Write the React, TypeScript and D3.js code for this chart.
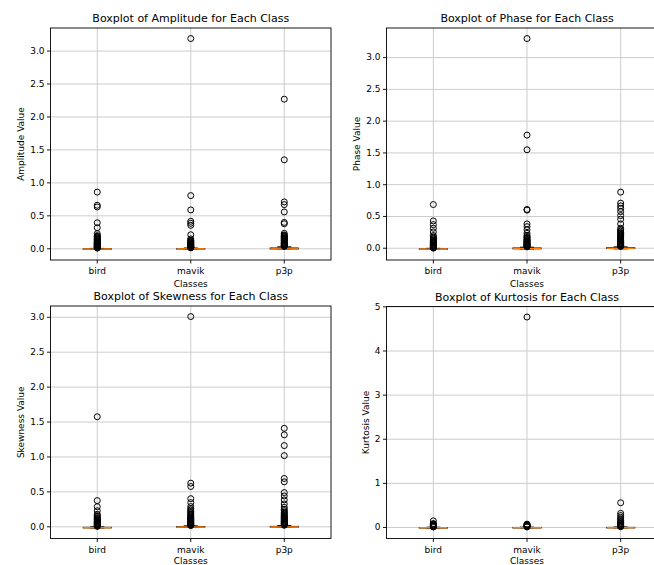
import React from "react";
import * as d3 from "d3";

// ---------- DATA ----------
const classes = ["bird", "mavik", "p3p"];
const features = ["Amplitude", "Phase", "Skewness", "Kurtosis"];

// box stats per class: [whiskerLow, q1, median, q3, whiskerHigh]
const amplitudeBoxes = [
  [-0.010, -0.006, -0.004, 0.000, 0.006],
  [-0.004, -0.002, -0.001, 0.004, 0.012],
  [-0.003, -0.002, -0.001, 0.012, 0.030],
];
const phaseBoxes = [
  [-0.019, -0.016, -0.014, -0.010, -0.002],
  [-0.012, -0.008, -0.006, 0.004, 0.016],
  [-0.010, -0.004, -0.002, 0.008, 0.022],
];
const skewnessBoxes = [
  [-0.016, -0.014, -0.012, -0.008, 0.000],
  [-0.008, -0.005, -0.003, 0.004, 0.014],
  [-0.006, -0.004, -0.002, 0.006, 0.018],
];
const kurtosisBoxes = [
  [-0.011, -0.008, -0.006, -0.002, 0.006],
  [-0.008, -0.006, -0.004, 0.000, 0.008],
  [-0.008, -0.006, -0.004, 0.002, 0.012],
];

// outliers per class
const amplitudeOutliers = [
  [0.86, 0.66, 0.635, 0.395, 0.32, 0.23, 0.2, 0.19, 0.18, 0.17, 0.16, 0.15, 0.14, 0.13, 0.12, 0.11, 0.10, 0.094, 0.088, 0.082, 0.076, 0.07, 0.064, 0.058, 0.052, 0.046, 0.04, 0.035, 0.03, 0.025, 0.02, 0.015, 0.011],
  [3.19, 0.807, 0.59, 0.417, 0.387, 0.356, 0.213, 0.15, 0.13, 0.12, 0.11, 0.1, 0.092, 0.085, 0.078, 0.071, 0.064, 0.058, 0.052, 0.046, 0.04, 0.035, 0.03, 0.026, 0.022, 0.018, 0.015],
  [2.27, 1.35, 0.711, 0.67, 0.559, 0.40, 0.38, 0.234, 0.21, 0.2, 0.19, 0.18, 0.17, 0.16, 0.15, 0.14, 0.13, 0.12, 0.11, 0.1, 0.09, 0.082, 0.075, 0.068, 0.061, 0.054, 0.048, 0.042, 0.036],
];
const phaseOutliers = [
  [0.688, 0.43, 0.372, 0.315, 0.257, 0.2, 0.18, 0.16, 0.145, 0.13, 0.12, 0.11, 0.1, 0.09, 0.08, 0.07, 0.062, 0.054, 0.046, 0.038, 0.031, 0.024, 0.018, 0.012, 0.006, 0.002],
  [3.30, 1.78, 1.55, 0.61, 0.60, 0.383, 0.34, 0.29, 0.236, 0.2, 0.185, 0.17, 0.155, 0.14, 0.13, 0.12, 0.11, 0.1, 0.09, 0.08, 0.072, 0.064, 0.056, 0.048, 0.04, 0.034, 0.028, 0.022],
  [0.883, 0.71, 0.667, 0.625, 0.577, 0.514, 0.457, 0.383, 0.315, 0.29, 0.27, 0.25, 0.235, 0.22, 0.205, 0.19, 0.175, 0.16, 0.145, 0.13, 0.12, 0.11, 0.1, 0.09, 0.08, 0.072, 0.064, 0.056, 0.048, 0.04, 0.034, 0.028],
];
const skewnessOutliers = [
  [1.576, 0.375, 0.288, 0.23, 0.18, 0.16, 0.145, 0.13, 0.12, 0.11, 0.1, 0.09, 0.08, 0.072, 0.064, 0.056, 0.048, 0.04, 0.032, 0.025, 0.018, 0.012, 0.006],
  [3.01, 0.625, 0.577, 0.403, 0.346, 0.29, 0.26, 0.24, 0.22, 0.2, 0.185, 0.17, 0.155, 0.14, 0.13, 0.12, 0.11, 0.1, 0.09, 0.08, 0.072, 0.064, 0.056, 0.048, 0.04, 0.034, 0.028, 0.022, 0.018],
  [1.41, 1.317, 1.163, 1.019, 0.692, 0.644, 0.49, 0.442, 0.385, 0.327, 0.279, 0.25, 0.23, 0.21, 0.195, 0.18, 0.165, 0.15, 0.14, 0.13, 0.12, 0.11, 0.1, 0.09, 0.08, 0.072, 0.064, 0.056, 0.048, 0.04, 0.034, 0.028, 0.022],
];
const kurtosisOutliers = [
  [0.15, 0.09, 0.075, 0.06, 0.05, 0.04, 0.032, 0.025, 0.018, 0.012],
  [4.77, 0.075, 0.068, 0.06, 0.052, 0.045, 0.038, 0.031, 0.024, 0.018, 0.012],
  [0.56, 0.32, 0.27, 0.23, 0.19, 0.16, 0.13, 0.11, 0.09, 0.075, 0.06, 0.05, 0.04, 0.032, 0.025, 0.018],
];

const decimalTicks = [0, 0.5, 1.0, 1.5, 2.0, 2.5, 3.0];
const integerTicks = [0, 1, 2, 3, 4, 5];

// ---------- LAYOUT ----------
const W = 654;
const H = 565;
const FONT = "DejaVu Sans, sans-serif";

type Panel = {
  name: string;
  boxes: number[][];
  outliers: number[][];
  ticks: number[];
  fmt: (v: number) => string;
  left: number;
  right: number;
  top: number;
  bottom: number;
  ylabelOffset: number;
  xlabelOffset: number;
};

const panels: Panel[] = [
  { name: features[0], boxes: amplitudeBoxes, outliers: amplitudeOutliers, ticks: decimalTicks, fmt: d3.format(".1f"), left: 50.5, right: 331, top: 28, bottom: 260, ylabelOffset: 30, xlabelOffset: 27 },
  { name: features[1], boxes: phaseBoxes, outliers: phaseOutliers, ticks: decimalTicks, fmt: d3.format(".1f"), left: 386.5, right: 667.5, top: 28, bottom: 260, ylabelOffset: 30, xlabelOffset: 27 },
  { name: features[2], boxes: skewnessBoxes, outliers: skewnessOutliers, ticks: decimalTicks, fmt: d3.format(".1f"), left: 50.5, right: 331, top: 306, bottom: 538.5, ylabelOffset: 30, xlabelOffset: 25.5 },
  { name: features[3], boxes: kurtosisBoxes, outliers: kurtosisOutliers, ticks: integerTicks, fmt: d3.format("d"), left: 386.5, right: 667.5, top: 306.5, bottom: 538.5, ylabelOffset: 21, xlabelOffset: 25.5 },
];

function BoxPanel({ p }: { p: Panel }) {
  const all = [...p.boxes.flat(), ...p.outliers.flat()];
  const mn = d3.min(all) as number;
  const mx = d3.max(all) as number;
  const m = (mx - mn) * 0.05;
  const y = d3.scaleLinear().domain([mn - m, mx + m]).range([p.bottom, p.top]);
  const x = d3.scaleLinear().domain([0.5, 3.5]).range([p.left, p.right]);
  const bw = x(1.15) - x(0.85);
  const cw = bw / 2;
  const midX = (p.left + p.right) / 2;
  const midY = (p.top + p.bottom) / 2;
  return (
    <g>
      {/* grid */}
      {p.ticks.map((t) => (
        <line key={"gy" + t} x1={p.left} x2={p.right} y1={y(t)} y2={y(t)} stroke="#cccccc" strokeWidth={1} />
      ))}
      {classes.map((c, i) => (
        <line key={"gx" + c} x1={x(i + 1)} x2={x(i + 1)} y1={p.top} y2={p.bottom} stroke="#cccccc" strokeWidth={1} />
      ))}
      {/* boxes */}
      {classes.map((c, i) => {
        const [wl, q1, med, q3, wh] = p.boxes[i];
        const cx = x(i + 1);
        return (
          <g key={"b" + c}>
            <line x1={cx} x2={cx} y1={y(q1)} y2={y(wl)} stroke="#000" strokeWidth={1} />
            <line x1={cx} x2={cx} y1={y(q3)} y2={y(wh)} stroke="#000" strokeWidth={1} />
            <line x1={cx - cw / 2} x2={cx + cw / 2} y1={y(wl)} y2={y(wl)} stroke="#000" strokeWidth={1} />
            <line x1={cx - cw / 2} x2={cx + cw / 2} y1={y(wh)} y2={y(wh)} stroke="#000" strokeWidth={1} />
            <rect x={cx - bw / 2} y={y(q3)} width={bw} height={Math.max(0.5, y(q1) - y(q3))} fill="none" stroke="#000" strokeWidth={1} />
            <line x1={cx - bw / 2} x2={cx + bw / 2} y1={y(med)} y2={y(med)} stroke="#ff7f0e" strokeWidth={1.5} />
            {p.outliers[i].map((v, k) => (
              <circle key={k} cx={cx} cy={y(v)} r={3} fill="none" stroke="#000" strokeWidth={1} />
            ))}
          </g>
        );
      })}
      {/* spines */}
      <rect x={p.left} y={p.top} width={p.right - p.left} height={p.bottom - p.top} fill="none" stroke="#000" strokeWidth={0.9} />
      {/* y ticks */}
      {p.ticks.map((t) => (
        <g key={"ty" + t}>
          <line x1={p.left - 3.5} x2={p.left} y1={y(t)} y2={y(t)} stroke="#000" strokeWidth={0.9} />
          <text x={p.left - 6} y={y(t)} dy="0.32em" textAnchor="end" fontSize={9} fontFamily={FONT} fill="#000">
            {p.fmt(t)}
          </text>
        </g>
      ))}
      {/* x ticks */}
      {classes.map((c, i) => (
        <g key={"tx" + c}>
          <line x1={x(i + 1)} x2={x(i + 1)} y1={p.bottom} y2={p.bottom + 3.5} stroke="#000" strokeWidth={0.9} />
          <text x={x(i + 1)} y={p.bottom + 14} textAnchor="middle" fontSize={9} fontFamily={FONT} fill="#000">
            {c}
          </text>
        </g>
      ))}
      <text x={midX} y={p.bottom + p.xlabelOffset} textAnchor="middle" fontSize={9} fontFamily={FONT} fill="#000">
        Classes
      </text>
      <text
        transform={`translate(${p.left - p.ylabelOffset},${midY}) rotate(-90)`}
        textAnchor="middle"
        dy="0.35em"
        fontSize={9}
        fontFamily={FONT}
        fill="#000"
      >
        {p.name + " Value"}
      </text>
      <text x={midX} y={p.top - 6} textAnchor="middle" fontSize={11} fontFamily={FONT} fill="#000">
        {"Boxplot of " + p.name + " for Each Class"}
      </text>
    </g>
  );
}

export default function App() {
  return (
    <svg
      width={W}
      height={H}
      viewBox={`0 0 ${W} ${H}`}
      style={{ position: "absolute", left: 0, top: 0, background: "#fff" }}
    >
      <rect x={0} y={0} width={W} height={H} fill="#fff" />
      {panels.map((p) => (
        <BoxPanel key={p.name} p={p} />
      ))}
    </svg>
  );
}
